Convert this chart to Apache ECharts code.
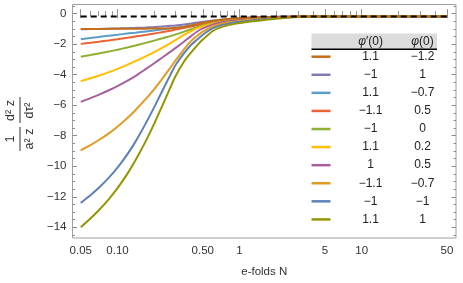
<!DOCTYPE html>
<html>
<head>
<meta charset="utf-8">
<script src="https://cdn.jsdelivr.net/npm/echarts@6/dist/echarts.min.js"></script>
<style>html,body{margin:0;padding:0;background:#fff;}#c{width:463px;height:283px;}</style>
</head>
<body>
<div id="c"></div>
<script>
// ---- data ----
var N = [0.05, 0.06, 0.07, 0.085, 0.1, 0.12, 0.14, 0.17, 0.2, 0.23, 0.27, 0.3, 0.35, 0.4, 0.45, 0.5, 0.6, 0.7, 0.85, 1, 1.3, 1.7, 2.2, 3, 5, 10, 50];
var brown   = [-1.0, -1.0, -0.999, -0.997, -0.995, -0.992, -0.988, -0.982, -0.976, -0.97, -0.95, -0.93, -0.87, -0.78, -0.68, -0.6, -0.48, -0.4, -0.335, -0.3, -0.255, -0.225, -0.205, -0.19, -0.181, -0.18, -0.18];
var purple  = [-1.02, -1.01, -1.0, -0.985, -0.97, -0.95, -0.93, -0.9, -0.87, -0.84, -0.8, -0.77, -0.71, -0.645, -0.585, -0.535, -0.455, -0.395, -0.335, -0.295, -0.25, -0.222, -0.203, -0.19, -0.181, -0.18, -0.18];
var ltblue  = [-1.68, -1.598, -1.529, -1.441, -1.377, -1.305, -1.244, -1.167, -1.103, -1.046, -0.978, -0.93, -0.85, -0.77, -0.695, -0.63, -0.52, -0.44, -0.36, -0.315, -0.262, -0.23, -0.207, -0.19, -0.181, -0.18, -0.18];
var red     = [-1.98, -1.907, -1.842, -1.755, -1.678, -1.586, -1.504, -1.396, -1.302, -1.217, -1.115, -1.045, -0.938, -0.846, -0.76, -0.685, -0.56, -0.47, -0.39, -0.34, -0.28, -0.24, -0.212, -0.193, -0.181, -0.18, -0.18];
var green   = [-2.82, -2.713, -2.616, -2.482, -2.362, -2.217, -2.086, -1.915, -1.765, -1.63, -1.47, -1.36, -1.18, -1.02, -0.88, -0.77, -0.62, -0.52, -0.43, -0.375, -0.305, -0.26, -0.225, -0.197, -0.182, -0.18, -0.18];
var yellow  = [-4.42, -4.236, -4.066, -3.829, -3.614, -3.352, -3.114, -2.795, -2.515, -2.256, -1.941, -1.723, -1.395, -1.15, -0.95, -0.82, -0.66, -0.56, -0.46, -0.4, -0.325, -0.275, -0.235, -0.2, -0.182, -0.18, -0.18];
var magenta = [-5.78, -5.537, -5.318, -5.019, -4.744, -4.404, -4.092, -3.639, -3.248, -2.908, -2.508, -2.245, -1.84, -1.47, -1.17, -0.97, -0.72, -0.58, -0.48, -0.42, -0.34, -0.28, -0.238, -0.2, -0.182, -0.18, -0.18];
var orange  = [-8.95, -8.61, -8.294, -7.841, -7.411, -6.858, -6.333, -5.602, -4.939, -4.317, -3.56, -3.05, -2.35, -1.8, -1.45, -1.18, -0.85, -0.68, -0.55, -0.48, -0.38, -0.31, -0.25, -0.205, -0.183, -0.18, -0.18];
var blue    = [-12.4, -11.896, -11.426, -10.746, -10.092, -9.238, -8.402, -7.207, -6.127, -5.15, -4.045, -3.351, -2.6, -2.05, -1.7, -1.38, -0.97, -0.77, -0.62, -0.54, -0.43, -0.34, -0.27, -0.21, -0.184, -0.18, -0.18];
var olive   = [-14.0, -13.428, -12.901, -12.149, -11.435, -10.513, -9.627, -8.37, -7.205, -6.125, -4.867, -4.07, -3.15, -2.55, -2.08, -1.7, -1.15, -0.9, -0.72, -0.62, -0.5, -0.39, -0.3, -0.225, -0.186, -0.18, -0.18];
var dashedN = [0.05, 50];
var dashedV = [-0.18, -0.18];

var phiPrime = ['1.1', '\u22121', '1.1', '\u22121.1', '\u22121', '1.1', '1', '\u22121.1', '\u22121', '1.1'];
var phi0     = ['\u22121.2', '1', '\u22120.7', '0.5', '0', '0.2', '0.5', '\u22120.7', '\u22121', '1'];
var colors   = ['#C56E1A', '#8778B3', '#5D9EC7', '#EB6235', '#8FB032', '#FFBF00', '#A5609D', '#E19C24', '#5E81B5', '#929600'];
var seriesVals = [brown, purple, ltblue, red, green, yellow, magenta, orange, blue, olive];

var xTickLabels = ['0.05', '0.10', '0.50', '1', '5', '10', '50'];
var xMinorTicks = [0.06, 0.07, 0.08, 0.09, 0.2, 0.3, 0.4, 0.6, 0.7, 0.8, 0.9, 2, 3, 4, 6, 7, 8, 9, 20, 30, 40];
var yTickValues = [-14, -12, -10, -8, -6, -4, -2, 0];

// ---- chart ----
var FONT = '"Liberation Sans", Arial, sans-serif';
var xMajor = xTickLabels.map(function (s) { return parseFloat(s); });
var yMinor = [];
for (var v = -14.5; v <= 0.5; v += 0.5) { if (Math.abs(v % 2) > 1e-9) yMinor.push(v); }
function fmtX(val) {
  for (var i = 0; i < xMajor.length; i++) if (Math.abs(val - xMajor[i]) / xMajor[i] < 1e-6) return xTickLabels[i];
  return '';
}
function fmtY(val) { var r = Math.round(val); return r < 0 ? '\u2212' + Math.abs(r) : String(r); }

var frameColor = '#a0a0a0';
var tickColor = '#8c8c8c';
var XMIN = 0.0428, XMAX = 59.3, YMIN = -14.7, YMAX = 0.6;
function xAx(pos, major, labels) {
  return {
    type: 'log', position: pos, min: XMIN, max: XMAX, logBase: 10,
    axisLine: { show: false }, splitLine: { show: false },
    axisTick: { show: true, inside: true, length: major ? 4.5 : 2.5, customValues: major ? xMajor : xMinorTicks, lineStyle: { color: tickColor, width: 1 } },
    axisLabel: { show: labels, customValues: xMajor, formatter: fmtX, color: '#333', fontFamily: FONT, fontSize: 11.5, margin: 7 },
    name: labels ? 'e-folds N' : '', nameLocation: 'middle', nameGap: 28,
    nameTextStyle: { color: '#333', fontFamily: FONT, fontSize: 11.5 }
  };
}
function yAx(pos, major, labels) {
  return {
    type: 'value', position: pos, min: YMIN, max: YMAX,
    axisLine: { show: false }, splitLine: { show: false },
    axisTick: { show: true, inside: true, length: major ? 4.5 : 2.5, customValues: major ? yTickValues : yMinor, lineStyle: { color: tickColor, width: 1 } },
    axisLabel: { show: labels, customValues: yTickValues, formatter: fmtY, color: '#333', fontFamily: FONT, fontSize: 11.5, margin: 6 }
  };
}

var series = seriesVals.map(function (vals, i) {
  return {
    type: 'line', xAxisIndex: 0, yAxisIndex: 0,
    data: N.map(function (n, k) { return [n, vals[k]]; }),
    smooth: 0.3, showSymbol: false, symbol: 'none',
    lineStyle: { color: colors[i], width: 2 },
    z: i === 0 ? 12 : 2 + i, silent: true
  };
});
series.push({
  type: 'line', xAxisIndex: 0, yAxisIndex: 0,
  data: dashedN.map(function (n, k) { return [n, dashedV[k]]; }),
  showSymbol: false, symbol: 'none',
  lineStyle: { color: '#000', width: 2, type: [6, 4] }, z: 20, silent: true
});

// legend table
var LX = 311.5, LW = 125.5, c1 = 370.5, c2 = 422.5, row0 = 56.7, rowStep = 18.08;
var gfx = [
  { type: 'rect', shape: { x: LX, y: 33.5, width: LW, height: 15.5 }, style: { fill: '#dcdcdc' }, z: 50 },
  { type: 'line', shape: { x1: LX, y1: 49.3, x2: LX + LW, y2: 49.3 }, style: { stroke: '#000', lineWidth: 1.5 }, z: 51 },
  { type: 'text', x: c1, y: 41.2, style: { text: '{i|\u03c6}\u2032(0)', rich: { i: { fontStyle: 'italic', fontFamily: FONT, fontSize: 12, fill: '#222' } }, fontFamily: FONT, fontSize: 12, fill: '#222', align: 'center', verticalAlign: 'middle' }, z: 52 },
  { type: 'text', x: c2, y: 41.2, style: { text: '{i|\u03c6}(0)', rich: { i: { fontStyle: 'italic', fontFamily: FONT, fontSize: 12, fill: '#222' } }, fontFamily: FONT, fontSize: 12, fill: '#222', align: 'center', verticalAlign: 'middle' }, z: 52 }
];
for (var r = 0; r < phiPrime.length; r++) {
  var yy = row0 + r * rowStep;
  gfx.push({ type: 'line', shape: { x1: LX, y1: yy, x2: LX + 19, y2: yy }, style: { stroke: colors[r], lineWidth: 2.5 }, z: 52 });
  gfx.push({ type: 'text', x: c1, y: yy, style: { text: phiPrime[r], fontFamily: FONT, fontSize: 12, fill: '#222', align: 'center', verticalAlign: 'middle' }, z: 52 });
  gfx.push({ type: 'text', x: c2, y: yy, style: { text: phi0[r], fontFamily: FONT, fontSize: 12, fill: '#222', align: 'center', verticalAlign: 'middle' }, z: 52 });
}
// y-axis title (rotated fraction)
var tStyle = function (t, x, y) { return { type: 'text', x: x, y: y, style: { text: t, fontFamily: FONT, fontSize: 12.5, fill: '#333', align: 'center', verticalAlign: 'middle' } }; };
gfx.push({
  type: 'group', x: 20, y: 124, rotation: Math.PI / 2,
  children: [
    tStyle('1', -15, -9),
    { type: 'line', shape: { x1: -27, y1: 0, x2: -3, y2: 0 }, style: { stroke: '#333', lineWidth: 1 } },
    tStyle('a\u00b2 z', -15, 10),
    tStyle('d\u00b2 z', 13.5, -9),
    { type: 'line', shape: { x1: 1, y1: 0, x2: 27, y2: 0 }, style: { stroke: '#333', lineWidth: 1 } },
    tStyle('d\u03c4\u00b2', 13.5, 10)
  ]
});

var chart = echarts.init(document.getElementById('c'), null, { renderer: 'canvas' });
chart.setOption({
  animation: false,
  backgroundColor: '#fff',
  grid: { left: 72.5, right: 7, top: 4.5, bottom: 41, show: true, borderColor: frameColor, borderWidth: 1, backgroundColor: 'transparent' },
  xAxis: [xAx('bottom', true, true), xAx('bottom', false, false), xAx('top', true, false), xAx('top', false, false)],
  yAxis: [yAx('left', true, true), yAx('left', false, false), yAx('right', true, false), yAx('right', false, false)],
  series: series,
  graphic: gfx
});
</script>
</body>
</html>
